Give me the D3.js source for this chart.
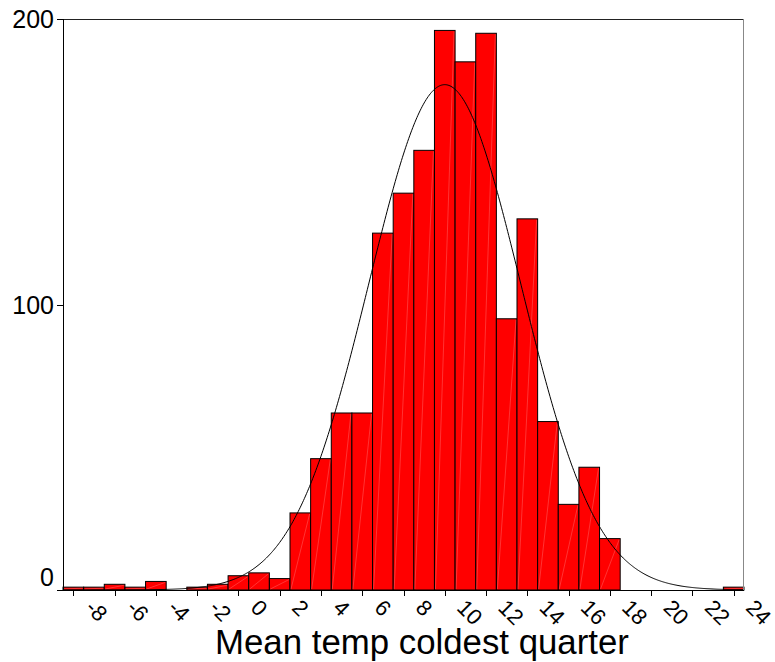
<!DOCTYPE html>
<html>
<head>
<meta charset="utf-8">
<script src="https://cdn.jsdelivr.net/npm/d3@7"></script>
<style>
  html, body { margin: 0; padding: 0; background: #fff; }
  svg { display: block; }
  text { font-family: "Liberation Sans", Arial, Helvetica, sans-serif; fill: #000; }
</style>
</head>
<body>
<svg id="chart" width="775" height="662"></svg>
<script>
// ---- data ----
const binCenters = [-8,-7,-6,-5,-4,-3,-2,-1,0,1,2,3,4,5,6,7,8,9,10,11,12,13,14,15,16,17,18,19,20,21,22,23,24];
const counts     = [ 1, 1, 2, 1, 3, 0, 1, 2,5,6,4,27,46,62,62,125,139,154,196,185,195,95,130,59,30,43,18,0,0,0,0,0,1];
const xTickValues = [-8,-6,-4,-2,0,2,4,6,8,10,12,14,16,18,20,22,24];
const yTickValues = [0,100,200];
const xTitle = "Mean temp coldest quarter";
// fitted normal curve parameters
const curveMean = 10.0;
const curveSD = 3.68;
const curvePeak = 177;

// ---- layout ----
const svg = d3.select("#chart");
const mLeft = 63, mRight = 744, mTop = 19, mBottom = 590;
const x = d3.scaleLinear().domain([-8.5, 24.5]).range([mLeft, mRight]);
const y = d3.scaleLinear().domain([0, 200]).range([mBottom, mTop]);

const bins = binCenters.map((c, i) => ({ x0: c - 0.5, x1: c + 0.5, v: counts[i] })).filter(d => d.v > 0);

// bars
const g = svg.append("g");
g.selectAll("rect.bar").data(bins).enter().append("rect")
  .attr("class", "bar")
  .attr("x", d => x(d.x0))
  .attr("y", d => y(d.v))
  .attr("width", d => x(d.x1) - x(d.x0))
  .attr("height", d => y(0) - y(d.v))
  .attr("fill", "#ff0000")
  .attr("stroke", "#000")
  .attr("stroke-width", 1);

// faint seam lines in bars
g.selectAll("line.seam").data(bins).enter().append("line")
  .attr("x1", d => x(d.x0) + 1)
  .attr("y1", y(0) - 1)
  .attr("x2", d => x(d.x1) - 1)
  .attr("y2", d => y(d.v) + 1)
  .attr("stroke", "rgba(255,255,255,0.25)")
  .attr("stroke-width", 0.8);

// clip for curve
svg.append("clipPath").attr("id", "plotclip").append("rect")
  .attr("x", mLeft).attr("y", mTop).attr("width", mRight - mLeft).attr("height", mBottom - mTop);

const curveX = d3.range(-8.5, 24.51, 0.05);
const line = d3.line()
  .x(v => x(v))
  .y(v => y(curvePeak * Math.exp(-0.5 * Math.pow((v - curveMean) / curveSD, 2))));
svg.append("path")
  .datum(curveX)
  .attr("clip-path", "url(#plotclip)")
  .attr("d", line)
  .attr("fill", "none")
  .attr("stroke", "#000")
  .attr("stroke-width", 1);

// frame
svg.append("line").attr("x1", mLeft - 6).attr("x2", mRight).attr("y1", mTop + 0.5).attr("y2", mTop + 0.5)
  .attr("stroke", "#222").attr("stroke-width", 1);
svg.append("line").attr("x1", mRight - 0.5).attr("x2", mRight - 0.5).attr("y1", mTop).attr("y2", mBottom)
  .attr("stroke", "#888").attr("stroke-width", 1);
svg.append("line").attr("x1", mLeft + 0.5).attr("x2", mLeft + 0.5).attr("y1", mTop).attr("y2", mBottom)
  .attr("stroke", "#000").attr("stroke-width", 1);
svg.append("line").attr("x1", mLeft - 6).attr("x2", mRight).attr("y1", mBottom + 0.5).attr("y2", mBottom + 0.5)
  .attr("stroke", "#000").attr("stroke-width", 1.2);

// y ticks & labels
const yAxis = svg.append("g");
yAxis.selectAll("line").data(yTickValues).enter().append("line")
  .attr("x1", mLeft - 6).attr("x2", mLeft)
  .attr("y1", d => Math.round(y(d)) + 0.5).attr("y2", d => Math.round(y(d)) + 0.5)
  .attr("stroke", "#000");
yAxis.selectAll("text").data(yTickValues).enter().append("text")
  .attr("x", 54)
  .attr("y", d => Math.min(y(d) + 9, 586))
  .attr("text-anchor", "end")
  .attr("font-size", 25)
  .text(d => d);

// x ticks & labels
const xAxis = svg.append("g");
xAxis.selectAll("line").data(xTickValues).enter().append("line")
  .attr("x1", d => Math.round(x(d)) + 0.5).attr("x2", d => Math.round(x(d)) + 0.5)
  .attr("y1", mBottom).attr("y2", mBottom + 6)
  .attr("stroke", "#000");
xAxis.selectAll("text").data(xTickValues).enter().append("text")
  .attr("transform", d => `translate(${x(d) + 11},609) rotate(45)`)
  .attr("text-anchor", "start")
  .attr("font-size", 22)
  .text(d => d);

// x title
svg.append("text")
  .attr("x", 215)
  .attr("y", 654)
  .attr("font-size", 34.8)
  .text(xTitle);
</script>
</body>
</html>
